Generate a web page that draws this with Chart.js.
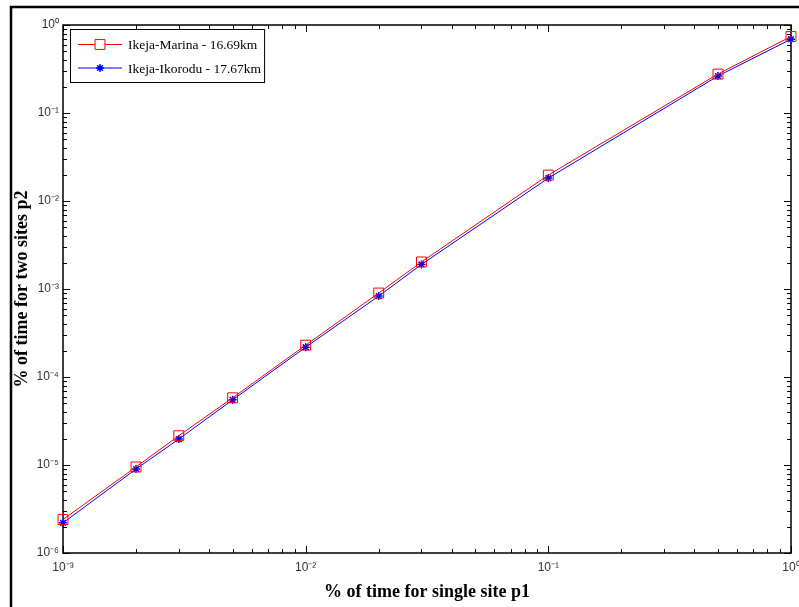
<!DOCTYPE html>
<html>
<head>
<meta charset="utf-8">
<script src="https://cdn.jsdelivr.net/npm/chart.js@4.4.1/dist/chart.umd.min.js"></script>
<style>
  html, body { margin: 0; padding: 0; background: #fff; }
  #chart { display: block; }
</style>
</head>
<body>
<canvas id="chart" width="799" height="607"></canvas>
<script>
// percentage of time for single site (x) and for two sites (y)
const p1Values = [0.001, 0.002, 0.003, 0.005, 0.01, 0.02, 0.03, 0.1, 0.5, 1.0];
const marinaP2 = [2.4e-6, 9.5e-6, 2.15e-5, 5.8e-5, 2.3e-4, 9.0e-4, 2.03e-3, 1.97e-2, 0.277, 0.74];
const ikoroduP2 = [2.2e-6, 9.0e-6, 1.97e-5, 5.5e-5, 2.18e-4, 8.3e-4, 1.9e-3, 1.82e-2, 0.263, 0.69];
const seriesLabels = ['Ikeja-Marina - 16.69km', 'Ikeja-Ikorodu - 17.67km'];
const xDecades = [-3, -2, -1, 0];
const yDecades = [-6, -5, -4, -3, -2, -1, 0];

const SUP = { '-': '\u207B', '0': '\u2070', '1': '\u00B9', '2': '\u00B2', '3': '\u00B3',
              '4': '\u2074', '5': '\u2075', '6': '\u2076', '7': '\u2077', '8': '\u2078', '9': '\u2079' };

function isMajor(v) {
    const l = Math.log10(v);
    return Math.abs(l - Math.round(l)) < 1e-9;
}

function decadeLabel(v) {
    const e = String(Math.round(Math.log10(v)));
    return '10' + e.split('').map(c => SUP[c]).join('');
}

// 1..9 x 10^e for every decade, plus the last power of ten
function logTicks(decades) {
    const out = [];
    decades.forEach((e, i) => {
        const last = i === decades.length - 1;
        for (let k = 1; k <= (last ? 1 : 9); k++) {
            out.push(Number((k * Math.pow(10, e)).toPrecision(6)));
        }
    });
    return out;
}

const xTicks = logTicks(xDecades);
const yTicks = logTicks(yDecades);

function pairs(ys) {
    return p1Values.map((x, i) => ({ x: x, y: ys[i] }));
}

// axes box with inward ticks on all four sides, matlab style
const framePlugin = {
    id: 'frame',
    beforeDraw(chart) {
        const ctx = chart.ctx;
        ctx.save();
        ctx.fillStyle = '#fff';
        ctx.fillRect(0, 0, chart.width, chart.height);
        ctx.strokeStyle = '#000';
        ctx.lineWidth = 2.5;
        ctx.beginPath();
        ctx.moveTo(11, chart.height + 5);
        ctx.lineTo(11, 7);
        ctx.lineTo(chart.width + 5, 7);
        ctx.stroke();
        ctx.restore();
    },
    beforeDatasetsDraw(chart) {
        const { ctx, chartArea: a, scales } = chart;
        ctx.save();
        ctx.strokeStyle = '#000';
        ctx.lineWidth = 1.5;
        ctx.strokeRect(a.left, a.top, a.right - a.left, a.bottom - a.top);
        ctx.lineWidth = 1;
        ctx.beginPath();
        scales.x.ticks.forEach(t => {
            const px = Math.round(scales.x.getPixelForValue(t.value)) + 0.5;
            const len = isMajor(t.value) ? 7 : 4;
            ctx.moveTo(px, a.bottom); ctx.lineTo(px, a.bottom - len);
            ctx.moveTo(px, a.top); ctx.lineTo(px, a.top + len);
        });
        scales.y.ticks.forEach(t => {
            const py = Math.round(scales.y.getPixelForValue(t.value)) + 0.5;
            const len = isMajor(t.value) ? 7 : 4;
            ctx.moveTo(a.left, py); ctx.lineTo(a.left + len, py);
            ctx.moveTo(a.right, py); ctx.lineTo(a.right - len, py);
        });
        ctx.stroke();
        ctx.restore();
    },
    afterDraw(chart) {
        // legend box in the upper-left corner of the axes
        const ctx = chart.ctx;
        const a = chart.chartArea;
        const x0 = a.left + 7, y0 = a.top + 4;
        ctx.save();
        ctx.font = '13.5px "Liberation Serif", "Times New Roman", serif';
        const textW = Math.max(...seriesLabels.map(s => ctx.measureText(s).width));
        const w = 58 + textW + 3, h = 53;
        ctx.fillStyle = '#fff';
        ctx.fillRect(x0, y0, w, h);
        ctx.strokeStyle = '#000';
        ctx.lineWidth = 1;
        ctx.strokeRect(x0 + 0.5, y0 + 0.5, w, h);
        chart.data.datasets.forEach((ds, i) => {
            const cy = y0 + 15.5 + i * 23.5;
            ctx.strokeStyle = ds.borderColor;
            ctx.lineWidth = 1;
            ctx.beginPath();
            ctx.moveTo(x0 + 8, cy);
            ctx.lineTo(x0 + 52, cy);
            ctx.stroke();
            ctx.lineWidth = ds.pointBorderWidth;
            Chart.helpers.drawPoint(ctx, {
                pointStyle: ds.pointStyle,
                radius: ds.pointRadius,
                borderWidth: ds.pointBorderWidth
            }, x0 + 30, cy);
            ctx.fillStyle = '#000';
            ctx.textBaseline = 'middle';
            ctx.fillText(seriesLabels[i], x0 + 58, cy + 1);
        });
        ctx.restore();
    }
};

const tickFont = { family: '"Liberation Sans", Arial, sans-serif', size: 12 };
const titleFont = { family: '"Liberation Serif", "Times New Roman", serif', size: 18, weight: 'bold' };

new Chart(document.getElementById('chart'), {
    type: 'line',
    data: {
        datasets: [{
            label: seriesLabels[0],
            data: pairs(marinaP2),
            borderColor: '#ff0000',
            backgroundColor: 'transparent',
            borderWidth: 1,
            pointStyle: 'rect',
            pointRadius: 7,
            pointBorderWidth: 1,
            pointBorderColor: '#ff0000',
            pointBackgroundColor: 'transparent',
            clip: false
        }, {
            label: seriesLabels[1],
            data: pairs(ikoroduP2),
            borderColor: '#0000ff',
            backgroundColor: 'transparent',
            borderWidth: 1,
            pointStyle: 'star',
            pointRadius: 4,
            pointBorderWidth: 1.5,
            pointBorderColor: '#0000ff',
            pointBackgroundColor: 'transparent',
            clip: false
        }]
    },
    options: {
        responsive: false,
        animation: false,
        events: [],
        layout: {
            padding: { left: 12, top: 25, right: 4, bottom: 0 }
        },
        plugins: {
            legend: { display: false },
            tooltip: { enabled: false }
        },
        scales: {
            x: {
                type: 'logarithmic',
                min: 0.001,
                max: 1,
                grid: { display: false, drawTicks: false },
                border: { display: false },
                afterBuildTicks: (scale) => { scale.ticks = xTicks.map(v => ({ value: v })); },
                afterFit: (scale) => { scale.height = 54; scale.paddingLeft = 0; scale.paddingRight = 0; },
                ticks: {
                    autoSkip: false,
                    maxRotation: 0,
                    padding: 7,
                    color: '#333',
                    font: tickFont,
                    callback: (v) => isMajor(v) ? decadeLabel(v) : ''
                },
                title: {
                    display: true,
                    text: '% of time for single site p1',
                    color: '#000',
                    font: titleFont,
                    padding: { top: 0, bottom: 4 }
                }
            },
            y: {
                type: 'logarithmic',
                min: 1e-6,
                max: 1,
                grid: { display: false, drawTicks: false },
                border: { display: false },
                afterBuildTicks: (scale) => { scale.ticks = yTicks.map(v => ({ value: v })); },
                afterFit: (scale) => { scale.width = 51; scale.paddingTop = 0; scale.paddingBottom = 0; },
                ticks: {
                    autoSkip: false,
                    padding: 4,
                    color: '#333',
                    font: tickFont,
                    callback: (v) => isMajor(v) ? decadeLabel(v) : ''
                },
                title: {
                    display: true,
                    text: '% of time for two sites p2',
                    color: '#000',
                    font: titleFont,
                    padding: { top: 0, bottom: 0 }
                }
            }
        }
    },
    plugins: [framePlugin]
});
</script>
</body>
</html>
